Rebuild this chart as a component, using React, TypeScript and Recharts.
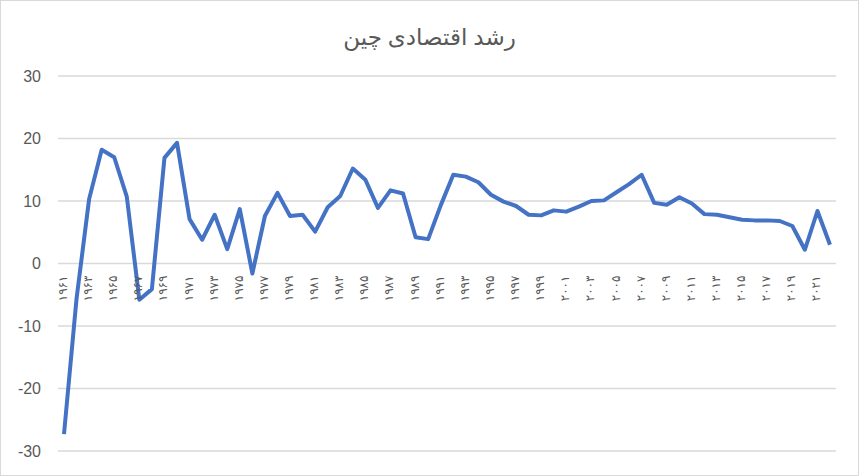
import { CartesianGrid, Line, LineChart, XAxis, YAxis } from "recharts";

const TITLE = "رشد اقتصادی چین";

const YEARS = [
  1961, 1962, 1963, 1964, 1965, 1966, 1967, 1968, 1969, 1970, 1971, 1972,
  1973, 1974, 1975, 1976, 1977, 1978, 1979, 1980, 1981, 1982, 1983, 1984,
  1985, 1986, 1987, 1988, 1989, 1990, 1991, 1992, 1993, 1994, 1995, 1996,
  1997, 1998, 1999, 2000, 2001, 2002, 2003, 2004, 2005, 2006, 2007, 2008,
  2009, 2010, 2011, 2012, 2013, 2014, 2015, 2016, 2017, 2018, 2019, 2020,
  2021, 2022,
];

const GROWTH = [
  -27.3, -5.6, 10.3, 18.2, 17.0, 10.7, -5.8, -4.1, 16.9, 19.3, 7.1, 3.8,
  7.8, 2.3, 8.7, -1.6, 7.6, 11.3, 7.6, 7.8, 5.1, 9.0, 10.8, 15.2,
  13.4, 8.9, 11.7, 11.2, 4.2, 3.9, 9.3, 14.2, 13.9, 13.0, 11.0, 9.9,
  9.2, 7.8, 7.7, 8.5, 8.3, 9.1, 10.0, 10.1, 11.4, 12.7, 14.2, 9.7,
  9.4, 10.6, 9.6, 7.9, 7.8, 7.4, 7.0, 6.9, 6.9, 6.8, 6.0, 2.2,
  8.4, 3.0,
];

const Y_TICKS = [-30, -20, -10, 0, 10, 20, 30];

const PERSIAN_DIGITS = ["۰", "۱", "۲", "۳", "۴", "۵", "۶", "۷", "۸", "۹"];

function toPersian(n: number): string {
  return String(n)
    .split("")
    .map((d) => PERSIAN_DIGITS[Number(d)] ?? d)
    .join("");
}

const data = YEARS.map((year, i) => ({ year, value: GROWTH[i] }));

const WIDTH = 859;
const HEIGHT = 476;
const TOP = 76;
const BOTTOM = 25;
// the category labels sit under the zero line, as in the spreadsheet
const ZERO_Y = TOP + (HEIGHT - TOP - BOTTOM) / 2;

function YearTick(props: any) {
  const { x, payload } = props;
  return (
    <text
      x={0}
      y={0}
      transform={`translate(${x + 3},${ZERO_Y + 12}) rotate(-90)`}
      textAnchor="end"
      fill="#595959"
      fontSize={12}
      letterSpacing={2}
      fontFamily="DejaVu Sans, sans-serif"
    >
      {toPersian(payload.value)}
    </text>
  );
}

export default function App() {
  return (
    <div
      style={{
        position: "fixed",
        left: 0,
        top: 0,
        width: WIDTH,
        height: HEIGHT,
        boxSizing: "border-box",
        border: "1px solid #d9d9d9",
        background: "#fff",
      }}
    >
      <div
        style={{
          position: "absolute",
          top: 19,
          left: 0,
          width: "100%",
          textAlign: "center",
          fontSize: 23,
          color: "#595959",
          fontFamily: "'Noto Sans', 'DejaVu Sans', sans-serif",
          direction: "rtl",
        }}
      >
        {TITLE}
      </div>
      <div style={{ position: "absolute", left: -1, top: -1 }}>
        <LineChart
          width={WIDTH}
          height={HEIGHT}
          data={data}
          margin={{ top: TOP, right: 23, left: 0, bottom: BOTTOM - 1 }}
        >
          <CartesianGrid vertical={false} stroke="#d9d9d9" strokeWidth={1.3} />
          <XAxis
            dataKey="year"
            height={1}
            interval={1}
            axisLine={false}
            tickLine={false}
            padding={{ left: 6, right: 6 }}
            tick={<YearTick />}
          />
          <YAxis
            width={58}
            domain={[-30, 30]}
            ticks={Y_TICKS}
            axisLine={false}
            tickLine={false}
            tickSize={0}
            tickMargin={17}
            tick={{ fill: "#595959", fontSize: 16, fontFamily: "'Liberation Sans', sans-serif" }}
          />
          <Line
            type="linear"
            dataKey="value"
            stroke="#4472c4"
            strokeWidth={4}
            dot={false}
            strokeLinejoin="round"
            isAnimationActive={false}
          />
        </LineChart>
      </div>
    </div>
  );
}
